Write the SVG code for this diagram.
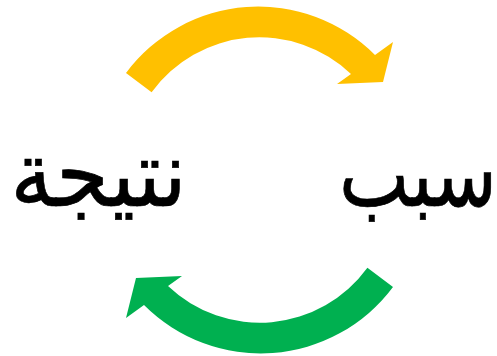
<svg xmlns="http://www.w3.org/2000/svg" width="497" height="356" viewBox="0 0 497 356">
<style>
.lbl{font-family:"DejaVu Sans","Noto Sans",sans-serif;font-size:92px;fill:#000;stroke:#000;stroke-width:0.7;text-anchor:middle}
</style>
<defs>
<path id="arc" d="M126,73 A165,165 0 0 1 375,55 L393,42 L383,82 L337,84 L351,74 A133,133 0 0 0 151.6,92.2 Z"/>
</defs>
<g id="connectors">
<use id="arrow-top" href="#arc" fill="#FFC000"/>
<use id="arrow-bottom" href="#arc" fill="#00B050" transform="rotate(180 259.5 180)"/>
</g>
<g id="node-cause" transform="translate(418,206) scale(0.81,1)">
<text class="lbl" x="0" y="0" direction="rtl">سبب</text>
</g>
<g id="node-effect" transform="translate(98.5,206) scale(0.93,1)">
<text class="lbl" x="0" y="0" direction="rtl">نتيجة</text>
</g>
</svg>
